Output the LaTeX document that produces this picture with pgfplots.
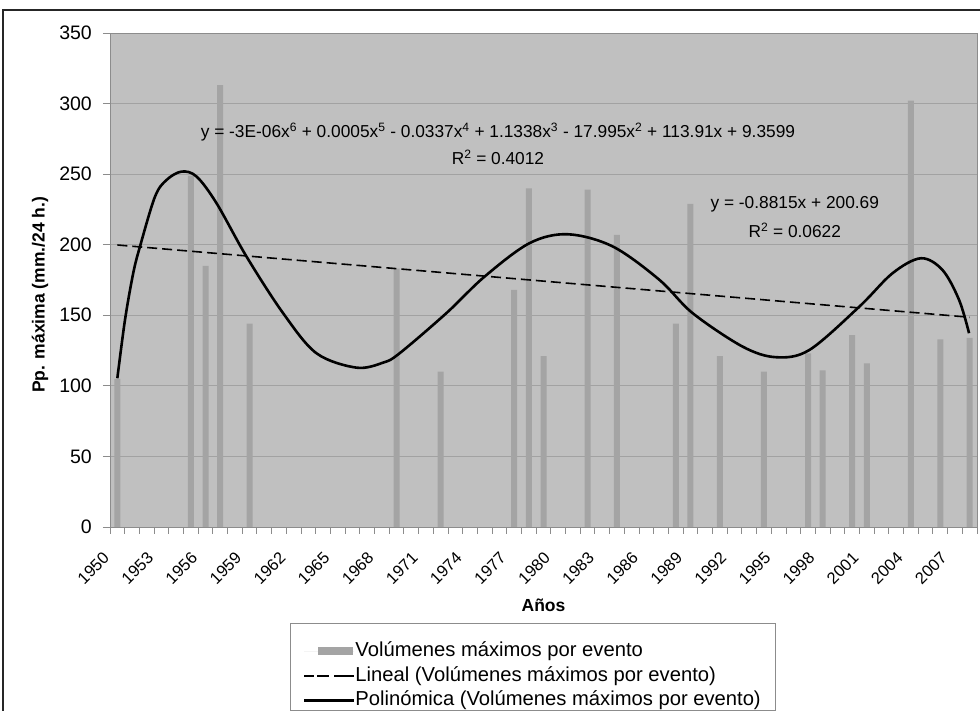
\documentclass[border=0pt]{standalone}
\usepackage{fontspec}
\setmainfont{Liberation Sans}
\usepackage{pgfplots}
\pgfplotsset{compat=1.18}

\definecolor{plotbg}{HTML}{C0C0C0}
\definecolor{barc}{HTML}{A4A4A4}
\definecolor{gridc}{HTML}{A2A2A2}
\definecolor{axc}{HTML}{8C8C8C}

\newcommand\tickfont{\fontsize{19.5pt}{22pt}\selectfont}
\newcommand\xtickfont{\fontsize{16.5pt}{19pt}\selectfont}
\newcommand\eqfont{\fontsize{17.3pt}{20pt}\selectfont}
\newcommand\labfont{\fontsize{17.5pt}{20pt}\selectfont\bfseries}

\begin{document}
\begin{tikzpicture}
\useasboundingbox (-110pt,-184pt) rectangle (870pt,527pt);
\draw[line width=1.2pt, black!85] (-107pt,-190pt) -- (-107pt,517pt) -- (875pt,517pt);
\begin{axis}[
    name=ax,
    scale only axis,
    width=867pt, height=494pt,
    xmin=-0.5, xmax=58.5,
    ymin=0, ymax=350,
    axis background/.style={fill=plotbg},
    axis line style={axc, line width=0.9pt},
    ytick={0,50,...,350},
    ymajorgrids=true,
    grid style={gridc, line width=0.9pt},
    xtick={-0.5,0.5,...,58.5},
    xticklabels={},
    extra x ticks={0,3,...,57},
    extra x tick labels={1950,1953,1956,1959,1962,1965,1968,1971,1974,1977,1980,1983,1986,1989,1992,1995,1998,2001,2004,2007},
    extra x tick style={major tick length=0pt},
    xtick pos=bottom, ytick pos=left,
    tick align=outside,
    major tick length=7pt,
    tick style={axc, line width=0.9pt},
    /pgf/number format/assume math mode=true,
    yticklabel style={font=\tickfont, anchor=east, inner sep=0pt, xshift=-11pt},
    xticklabel style={font=\xtickfont, inner sep=0pt, xshift=-11pt, yshift=-28pt, rotate=45, anchor=east},
    xlabel={Años},
    xlabel style={font=\labfont, at={(axis description cs:0.5,0)}, anchor=center, yshift=-78pt},
    ylabel={Pp. máxima (mm./24 h.)},
    ylabel style={font=\labfont, at={(axis description cs:-0.0807,0.47)}, anchor=center},
    legend style={
        at={(axis description cs:0.2084,-0.2328)}, anchor=north west,
        draw=none, fill=none,
        font=\fontsize{20.2pt}{23pt}\selectfont,
        inner xsep=12pt, inner ysep=0pt,
        row sep=6pt,
        nodes={inner sep=0pt, text height=14.5pt, text depth=4pt, anchor=west},
        /tikz/every even column/.append style={column sep=5pt},
    },
    legend cell align=left,
]
\addplot[ybar, bar width=6pt, fill=barc, draw=none,
    legend image code/.code={\path (0pt,0pt) -- (50pt,0pt); \fill[barc] (14pt,-4pt) rectangle (49pt,4pt);}]
coordinates {
    (0,105) (5,249) (6,185) (7,313) (9,144) (19,183) (22,110)
    (27,168) (28,240) (29,121) (32,239) (34,207) (38,144) (39,229)
    (41,121) (44,110) (47,123) (48,111) (50,136) (51,116) (54,302)
    (56,133) (58,134)
};
\addlegendentry{Volúmenes máximos por evento}

\addplot[black, line width=1.6pt, dash pattern=on 10pt off 5pt,
    legend image code/.code={\path (0pt,0pt) -- (50pt,0pt); \draw[black, line width=1.6pt] (13pt,0pt) -- (24pt,0pt) (36pt,0pt) -- (49pt,0pt);}]
coordinates {(0,199.8) (58,148.6)};
\addlegendentry{Lineal (Volúmenes máximos por evento)}

\addplot[black, line width=2.6pt, smooth, tension=0.55,
    legend image code/.code={\path (0pt,0pt) -- (50pt,0pt); \draw[black, line width=2pt] (12pt,0pt) -- (49pt,0pt);}]
coordinates {
    (0,105.4) (0.52,146.7) (1.08,179.8) (1.54,198.7) (2.56,234) (3.35,245.9)
    (4.37,251.8) (5.39,248.3) (6.75,229.4) (8.79,191.6) (11.28,151.5)
    (13.55,123.1) (16.27,112.9) (18.1,116.5) (19.21,123.1) (22.39,151.5)
    (24.99,177.4) (28.05,201.1) (30.66,207.4) (33.72,198.7) (36.89,175.1)
    (39.15,151.5) (42.55,127.8) (44.82,120.3) (47.09,125.4) (50.49,156.1)
    (52.75,179.8) (54.68,190.4) (56.15,182.1) (57.28,160.9) (57.96,137.3)
};
\addlegendentry{Polinómica (Volúmenes máximos por evento)}

\node[font=\eqfont, inner sep=0pt] at (axis cs:25.9,279.9)
    {y = -3E-06x\textsuperscript{6} + 0.0005x\textsuperscript{5} - 0.0337x\textsuperscript{4} + 1.1338x\textsuperscript{3} - 17.995x\textsuperscript{2} + 113.91x + 9.3599};
\node[font=\eqfont, inner sep=0pt] at (axis cs:25.9,262.1) {R\textsuperscript{2} = 0.4012};
\node[font=\eqfont, inner sep=0pt] at (axis cs:46.1,228.6) {y = -0.8815x + 200.69};
\node[font=\eqfont, inner sep=0pt] at (axis cs:46.1,210.4) {R\textsuperscript{2} = 0.0622};
\end{axis}
\draw[axc, line width=0.8pt] ([shift={(180.7pt,-96pt)}]ax.south west) rectangle ([shift={(665pt,-183pt)}]ax.south west);
\end{tikzpicture}
\end{document}
